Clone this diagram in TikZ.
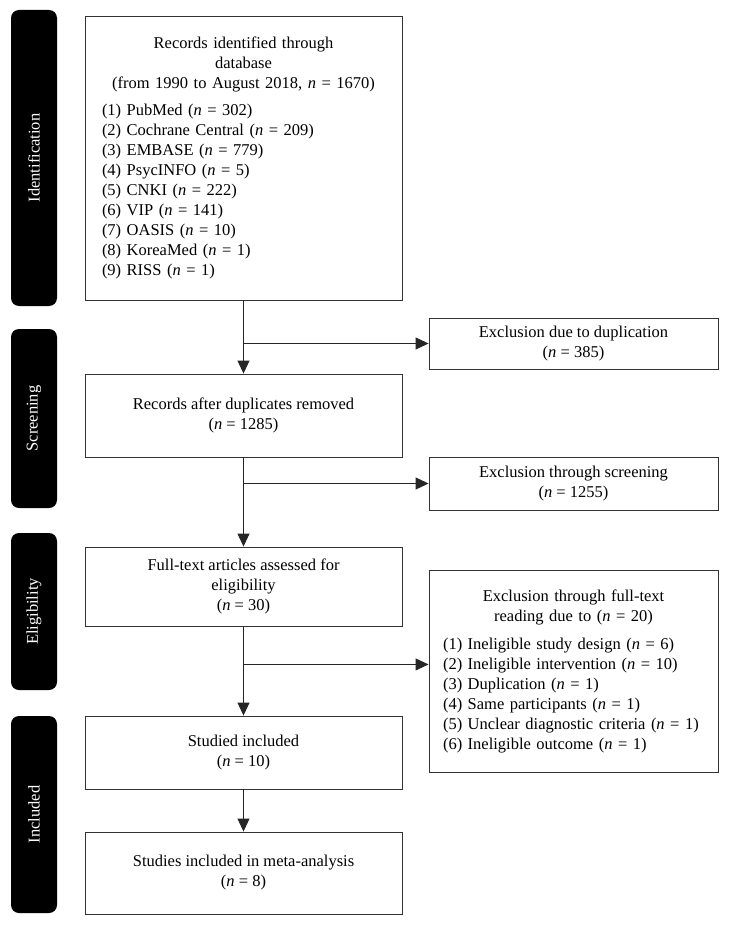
\documentclass[tikz,border=0pt]{standalone}
\usepackage{fontspec}
\setmainfont{Liberation Serif}
\usetikzlibrary{calc}
\usetikzlibrary{positioning}
\usetikzlibrary{arrows.meta}
\tikzstyle{boxnode} = [draw=black!80, line width=0.9pt, rectangle, minimum width=317pt, align=center, inner sep=4pt, font=\fontsize{16.5}{20}\selectfont]
\tikzstyle{excnode} = [draw=black!80, line width=0.9pt, rectangle, minimum width=289pt, align=center, inner sep=4pt, font=\fontsize{16.5}{20}\selectfont]
\tikzstyle{sidenode} = [fill=black, rounded corners=8pt, rotate=90, minimum height=46pt, text=white, inner sep=0, font=\fontsize{16.5}{20}\selectfont]
\tikzstyle{flowarrow} = [-{Triangle[length=13pt,width=12pt]}, line width=0.9pt, draw=black!85]
\newcommand{\nn}[1]{(\textit{n} = #1)}

\begin{document}
\begin{tikzpicture}[x=1pt, y=-1pt]
    \useasboundingbox (0,0) rectangle (729,925);
    % phase labels
    \node[sidenode, minimum width=296pt] (side_ident) at (34,158) {Identification};
    \node[sidenode, minimum width=179pt] (side_screen) at (34,418.5) {Screening};
    \node[sidenode, minimum width=157pt] (side_elig) at (34,611.5) {Eligibility};
    \node[sidenode, minimum width=197pt] (side_incl) at (34,814.5) {Included};
    % main column
    \node[boxnode, text width=283pt, inner xsep=17pt, minimum height=284pt, align=left] (records) at (243.5,158) {{\centering Records identified through\\database\\(from 1990 to August 2018, \textit{n} = 1670)\par}\vspace{7pt}(1) PubMed \nn{302}\\(2) Cochrane Central \nn{209}\\(3) EMBASE \nn{779}\\(4) PsycINFO \nn{5}\\(5) CNKI \nn{222}\\(6) VIP \nn{141}\\(7) OASIS \nn{10}\\(8) KoreaMed \nn{1}\\(9) RISS \nn{1}};
    \node[boxnode, minimum height=83pt] (dedup) at ($(records)+(0,257.5)$) {Records after duplicates removed\\\nn{1285}};
    \node[boxnode, minimum height=79pt] (fulltext) at ($(dedup)+(0,171)$) {Full-text articles assessed for\\eligibility\\\nn{30}};
    \node[boxnode, minimum height=73pt] (studied) at ($(fulltext)+(0,166)$) {Studied included\\\nn{10}};
    \node[boxnode, minimum height=82pt] (meta) at ($(studied)+(0,120.5)$) {Studies included in meta-analysis\\\nn{8}};
    % exclusions
    \node[excnode, minimum height=51pt] (exc_dup) at ($(records)+(330,185.5)$) {Exclusion due to duplication\\\nn{385}};
    \node[excnode, minimum height=53pt] (exc_screen) at ($(exc_dup)+(0,140)$) {Exclusion through screening\\\nn{1255}};
    \node[excnode, text width=261pt, inner xsep=14pt, minimum height=202pt, align=left] (exc_full) at ($(exc_screen)+(0,187.5)$) {{\centering Exclusion through full-text\\reading due to \nn{20}\par}\vspace{8pt}(1) Ineligible study design \nn{6}\\(2) Ineligible intervention \nn{10}\\(3) Duplication \nn{1}\\(4) Same participants \nn{1}\\(5) Unclear diagnostic criteria \nn{1}\\(6) Ineligible outcome \nn{1}};
    % connectors
    \coordinate (split_dup) at (records.south |- exc_dup.west);
    \coordinate (split_screen) at (dedup.south |- exc_screen.west);
    \coordinate (split_full) at ($(fulltext.south)+(0,38)$);
    \draw[flowarrow] (records) -- (dedup);
    \draw[flowarrow] (split_dup) -- (exc_dup);
    \draw[flowarrow] (dedup) -- (fulltext);
    \draw[flowarrow] (split_screen) -- (exc_screen);
    \draw[flowarrow] (fulltext) -- (studied);
    \draw[flowarrow] (split_full) -- (split_full -| exc_full.west);
    \draw[flowarrow] (studied) -- (meta);
\end{tikzpicture}
\end{document}
